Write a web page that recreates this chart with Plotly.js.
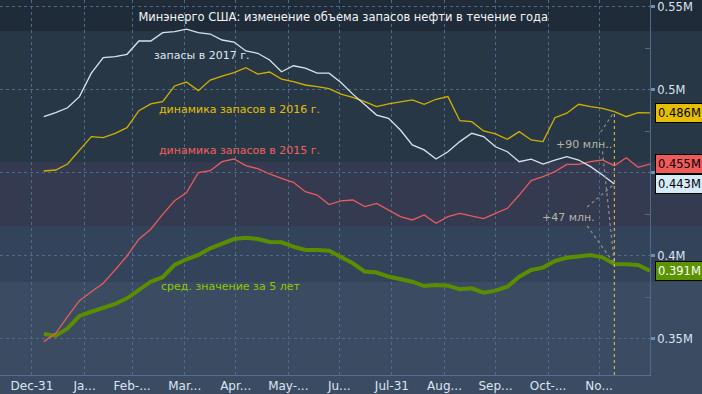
<!DOCTYPE html>
<html><head><meta charset="utf-8">
<script src="https://cdn.plot.ly/plotly-3.0.1.min.js"></script>
<style>html,body{margin:0;padding:0;background:#3a4b62;overflow:hidden}#chart{width:702px;height:394px}</style>
</head><body><div id="chart"></div>
<script>
const dates = ['2017-01-07','2017-01-14','2017-01-21','2017-01-28','2017-02-04','2017-02-11','2017-02-18','2017-02-25',
'2017-03-04','2017-03-11','2017-03-18','2017-03-25','2017-04-01','2017-04-08','2017-04-15','2017-04-22','2017-04-29',
'2017-05-06','2017-05-13','2017-05-20','2017-05-27','2017-06-03','2017-06-10','2017-06-17','2017-06-24',
'2017-07-01','2017-07-08','2017-07-15','2017-07-22','2017-07-29','2017-08-05','2017-08-12','2017-08-19','2017-08-26',
'2017-09-02','2017-09-09','2017-09-16','2017-09-23','2017-09-30','2017-10-07','2017-10-14','2017-10-21','2017-10-28',
'2017-11-04','2017-11-11','2017-11-18','2017-11-25','2017-12-02','2017-12-09','2017-12-16','2017-12-23','2017-12-30'];

const stocks2017 = [0.4839,0.4863,0.4893,0.4960,0.5101,0.5195,0.5201,0.5215,0.5295,0.5295,0.5345,0.5351,0.5366,0.5345,
0.5337,0.5301,0.5289,0.5235,0.5221,0.5181,0.5110,0.5146,0.5131,0.5101,0.5101,0.5045,0.4975,0.4910,0.4849,0.4829,
0.4759,0.4669,0.4639,0.4584,0.4628,0.4689,0.4739,0.4719,0.4658,0.4628,0.4568,0.4583,0.4554,0.4578,0.4598,0.4578,
0.4538,0.4488,0.4433];

const stocks2016 = [0.4512,0.4518,0.4554,0.4634,0.4719,0.4713,0.4739,0.4773,0.4875,0.4916,0.4930,0.5024,0.5048,0.4996,
0.5060,0.5084,0.5104,0.5134,0.5096,0.5108,0.5066,0.5050,0.5030,0.5020,0.5008,0.4975,0.4956,0.4930,0.4900,0.4916,
0.4930,0.4940,0.4914,0.4944,0.4960,0.4815,0.4809,0.4753,0.4735,0.4703,0.4749,0.4699,0.4689,0.4833,0.4860,0.4914,
0.4900,0.4889,0.4869,0.4839,0.4863,0.4862];

const stocks2015 = [0.3484,0.3534,0.3634,0.3731,0.3785,0.3836,0.3916,0.4000,0.4101,0.4161,0.4251,0.4333,0.4381,0.4502,
0.4514,0.4568,0.4584,0.4544,0.4526,0.4494,0.4468,0.4444,0.4387,0.4367,0.4310,0.4332,0.4337,0.4297,0.4317,0.4277,
0.4237,0.4217,0.4247,0.4197,0.4237,0.4257,0.4241,0.4225,0.4257,0.4287,0.4367,0.4454,0.4478,0.4508,0.4552,0.4552,
0.4568,0.4578,0.4544,0.4592,0.4534,0.4554];

const avg5y = [0.3530,0.3520,0.3564,0.3639,0.3664,0.3685,0.3711,0.3745,0.3795,0.3845,0.3872,0.3946,0.3980,0.4006,
0.4046,0.4076,0.4102,0.4110,0.4102,0.4084,0.4082,0.4056,0.4036,0.4036,0.4032,0.3994,0.3956,0.3906,0.3900,0.3876,
0.3860,0.3845,0.3819,0.3825,0.3821,0.3799,0.3805,0.3779,0.3791,0.3815,0.3875,0.3916,0.3930,0.3970,0.3990,0.4000,
0.4006,0.3992,0.3952,0.3950,0.3946,0.3911];

const seriesNames = ['сред. значение за 5 лет','динамика запасов в 2015 г.','динамика запасов в 2016 г.','запасы в 2017 г.'];
const yTickVals = [0.35,0.40,0.45,0.50,0.55];
const yTickText = ['0.35M','0.4M','','0.5M','0.55M'];
const yMinorVals = [0.375,0.425,0.475,0.525];
const xTickVals = ['2016-12-31','2017-01-31','2017-02-28','2017-03-31','2017-04-30','2017-05-31','2017-06-30',
'2017-07-31','2017-08-31','2017-09-30','2017-10-31','2017-11-30'];
const xTickText = ['Dec-31','Ja...','Feb-...','Mar...','Apr...','May-...','Ju...','Jul-31','Aug...','Sep...','Oct-...','No...'];
const titleText = 'Минэнерго США: изменение объема запасов нефти в течение года';
const diffLabels = ['+90 млн..','+47 млн.'];

const C = {white:'#d9e4ef', yellow:'#d2b000', red:'#e85c5e', green:'#5b8d00'};
const FONT = 'DejaVu Sans, Liberation Sans, sans-serif';

const traces = [
  {x:dates, y:avg5y, name:seriesNames[0], mode:'lines', line:{color:C.green, width:4}},
  {x:dates, y:stocks2015, name:seriesNames[1], mode:'lines', line:{color:C.red, width:1.3}},
  {x:dates, y:stocks2016, name:seriesNames[2], mode:'lines', line:{color:C.yellow, width:1.3}},
  {x:dates, y:stocks2017, name:seriesNames[3], mode:'lines', line:{color:C.white, width:1.3}}
];

const li = stocks2017.length - 1;       // latest 2017 week
const lastDate = dates[li];
const n = dates.length - 1;

function band(y0, y1, color){
  return {type:'rect', xref:'paper', yref:'y', x0:-0.05, x1:1.2, y0:y0, y1:y1, fillcolor:color, line:{width:0}, layer:'below'};
}
function dotLine(x0,y0,x1,y1,color){
  return {type:'line', xref:'x', yref:'y', x0:x0, y0:y0, x1:x1, y1:y1, line:{color:color, width:1.2, dash:'dot'}};
}

const shapes = [
  band(0.535, 0.60, '#1f2b38'),
  band(0.4566, 0.535, '#283746'),
  band(0.418, 0.4566, '#343a50'),
  band(0.3843, 0.418, '#33445a'),
  dotLine('2017-12-01', 0.4747, lastDate, stocks2016[li], '#8f8f86'),
  dotLine('2017-12-02', 0.4630, lastDate, avg5y[li], '#8f8f86'),
  dotLine('2017-11-23', 0.4295, lastDate, stocks2017[li], '#8f8f86'),
  dotLine('2017-11-23', 0.4181, lastDate, avg5y[li], '#8f8f86'),
  {type:'line', xref:'x', yref:'y', x0:lastDate, x1:lastDate, y0:0.3283, y1:stocks2016[li], line:{color:'#e6c84a', width:1, dash:'dot'}},
  // thin UI strip along the very top
  {type:'rect', xref:'paper', yref:'paper', x0:0, x1:0.12, y0:1, y1:1.005, fillcolor:'#2e5d8c', line:{width:0}},
  {type:'rect', xref:'paper', yref:'paper', x0:0.12, x1:1.08, y0:1, y1:1.005, fillcolor:'#3b3f44', line:{width:0}}
];

function tag(v, bg, fg){
  return {xref:'paper', x:1.003, yref:'y', y:v, text:v.toFixed(3)+'M', showarrow:true, ax:28, ay:0,
    arrowhead:2, arrowsize:1.4, arrowwidth:4, arrowcolor:bg, standoff:0,
    bgcolor:bg, bordercolor:'#000', borderwidth:1, borderpad:2,
    font:{family:FONT, size:11.5, color:fg}, xanchor:'center', yanchor:'middle'};
}
function label(x, y, text, color, size){
  return {xref:'paper', yref:'paper', x:x, y:y, text:text, showarrow:false, font:{family:FONT, size:size||11, color:color}, xanchor:'center', yanchor:'middle'};
}

const annotations = [
  label(0.311, 0.851, seriesNames[3], '#dfe7f0'),
  label(0.369, 0.709, seriesNames[2], '#e4c000'),
  label(0.369, 0.600, seriesNames[1], '#f2605f'),
  label(0.354, 0.235, seriesNames[0], '#8ccb00'),
  label(0.898, 0.616, diffLabels[0], '#b3b5a6'),
  label(0.874, 0.421, diffLabels[1], '#b3b5a6'),
  tag(stocks2016[n], '#e6c000', '#000'),
  tag(stocks2015[n], '#f05a5a', '#000'),
  tag(stocks2017[li], '#d6ebf8', '#000'),
  tag(avg5y[n], '#5a9400', '#fff')
];

const layout = {
  width:702, height:394,
  margin:{l:0, r:52, t:0, b:19, pad:0},
  paper_bgcolor:'#3a4b62', plot_bgcolor:'#3a4b62',
  showlegend:false,
  title:{text:titleText, font:{family:FONT, size:11.5, color:'#f2f5f8'}, xref:'paper', x:0.528, xanchor:'center', yref:'container', y:0.957, yanchor:'middle'},
  xaxis:{type:'date', range:['2016-12-12 05:00','2017-12-30'], tickvals:xTickVals, ticktext:xTickText,
    showgrid:true, gridcolor:'#4d6a8a', griddash:'dot', gridwidth:1, showline:true, linecolor:'#566f8e', linewidth:1,
    ticks:'', tickfont:{family:FONT, size:12, color:'#dce6f2'}, zeroline:false, fixedrange:true},
  yaxis:{side:'right', range:[0.3283,0.5542], tickvals:yTickVals, ticktext:yTickText, ticklabeloverflow:'allow',
    showgrid:true, gridcolor:'#4d6a8a', griddash:'dot', gridwidth:1, showline:true, linecolor:'#4e6b8c', linewidth:1,
    ticks:'outside', ticklen:4, tickwidth:3, tickcolor:'#6f8fb0',
    minor:{tickvals:yMinorVals, ticks:'inside', ticklen:5, tickcolor:'#4e6b8c', tickwidth:1, showgrid:false},
    tickfont:{family:FONT, size:11.5, color:'#dce6f2'}, zeroline:false, fixedrange:true},
  shapes:shapes,
  annotations:annotations
};

Plotly.newPlot('chart', traces, layout, {staticPlot:true, displayModeBar:false});
</script></body></html>
